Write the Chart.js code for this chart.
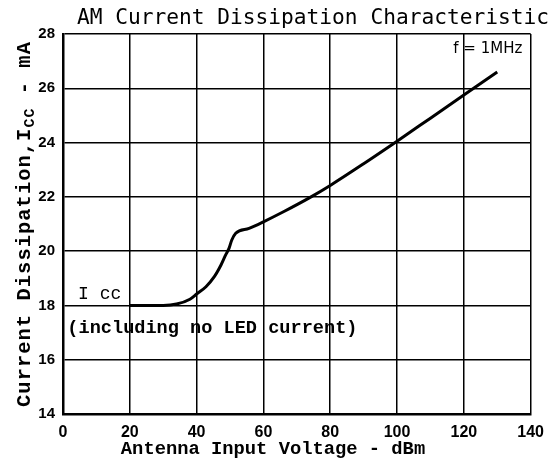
<!DOCTYPE html>
<html>
<head>
<meta charset="utf-8">
<script src="https://cdn.jsdelivr.net/npm/chart.js@4/dist/chart.umd.min.js"></script>
<style>
  html, body { margin: 0; padding: 0; background: #fff; }
  #wrap { width: 553px; height: 466px; }
</style>
</head>
<body>
<div id="wrap"><canvas id="icc"></canvas></div>
<script>
// antenna input (dBm) vs current dissipation (mA)
const inputDbm = [20, 30, 34, 38, 40, 42.8, 45.3, 47.3, 48.7, 49.7, 50.5, 51.7, 55.7, 60, 66, 74, 80, 90, 100, 110, 120, 130];
const iccMa    = [18.0, 18.0, 18.05, 18.23, 18.42, 18.69, 19.06, 19.49, 19.86, 20.1, 20.4, 20.66, 20.84, 21.08, 21.45, 21.98, 22.42, 23.22, 24.05, 24.9, 25.75, 26.6];
const xTicks = [0, 20, 40, 60, 80, 100, 120, 140];
const yTicks = [14, 16, 18, 20, 22, 24, 26, 28];

const mono = '"Liberation Mono", "Courier New", monospace';

const labels = {
  id: 'labels',
  afterDraw(chart) {
    const ctx = chart.ctx;
    const x = chart.scales.x, y = chart.scales.y;
    const area = chart.chartArea;
    ctx.save();
    ctx.fillStyle = '#000';

    // title
    ctx.font = '21.2px "DejaVu Sans Mono", monospace';
    ctx.textAlign = 'left';
    ctx.textBaseline = 'alphabetic';
    ctx.fillText('AM Current Dissipation Characteristic', 77, 24);

    // notes inside the plot
    ctx.font = '15px "DejaVu Sans", sans-serif';
    ctx.textAlign = 'right';
    ctx.fillText('f = 1MHz', x.getPixelForValue(137.5), y.getPixelForValue(27.3));

    ctx.font = '18px ' + mono;
    ctx.textAlign = 'left';
    ctx.fillText('I cc', x.getPixelForValue(4.5), y.getPixelForValue(18.25));
    ctx.font = 'bold 18.6px ' + mono;
    ctx.fillText('(including no LED current)', x.getPixelForValue(1.3), y.getPixelForValue(17.0));

    // x axis title
    ctx.font = 'bold 18.8px ' + mono;
    ctx.textAlign = 'center';
    ctx.fillText('Antenna Input Voltage - dBm', 273, 454);

    // y axis title with subscript
    ctx.translate(25, (area.top + area.bottom) / 2);
    ctx.rotate(-Math.PI / 2);
    ctx.letterSpacing = '1px';
    const main = 'Current Dissipation,I';
    const sub = 'CC';
    const tail = ' - mA';
    ctx.font = 'bold 20.5px ' + mono;
    const w1 = ctx.measureText(main).width;
    const w3 = ctx.measureText(tail).width;
    ctx.font = 'bold 15px ' + mono;
    const w2 = ctx.measureText(sub).width;
    let px = -(w1 + w2 + w3) / 2;
    ctx.textAlign = 'left';
    ctx.textBaseline = 'middle';
    ctx.font = 'bold 20.5px ' + mono;
    ctx.fillText(main, px, 0);
    px += w1;
    ctx.font = 'bold 15px ' + mono;
    ctx.fillText(sub, px, 5);
    px += w2;
    ctx.font = 'bold 20.5px ' + mono;
    ctx.fillText(tail, px, 0);
    ctx.restore();
  }
};

new Chart(document.getElementById('icc'), {
  type: 'line',
  data: {
    datasets: [{
      data: inputDbm.map((v, i) => ({ x: v, y: iccMa[i] })),
      borderColor: '#000',
      borderWidth: 3,
      pointRadius: 0,
      cubicInterpolationMode: 'monotone',
      fill: false
    }]
  },
  options: {
    responsive: true,
    maintainAspectRatio: false,
    animation: false,
    layout: { padding: { top: 34, right: 20, left: 0, bottom: 0 } },
    plugins: { legend: { display: false }, tooltip: { enabled: false } },
    scales: {
      x: {
        type: 'linear',
        min: 0, max: 140,
        afterBuildTicks: s => { s.ticks = xTicks.map(v => ({ value: v })); },
        afterFit: s => { s.height = 52; },
        grid: { color: '#000', lineWidth: 1.5, drawTicks: false },
        border: { color: '#000', width: 2.5 },
        ticks: { color: '#000', padding: 9, font: { family: '"Liberation Sans", sans-serif', weight: 'bold', size: 16 } }
      },
      y: {
        min: 14, max: 28,
        afterBuildTicks: s => { s.ticks = yTicks.map(v => ({ value: v })); },
        afterFit: s => { s.width = 63; },
        grid: { color: '#000', lineWidth: 1.5, drawTicks: false },
        border: { color: '#000', width: 2.5 },
        ticks: { color: '#000', padding: 8, font: { family: '"Liberation Sans", sans-serif', weight: 'bold', size: 15 } }
      }
    }
  },
  plugins: [labels]
});
</script>
</body>
</html>
